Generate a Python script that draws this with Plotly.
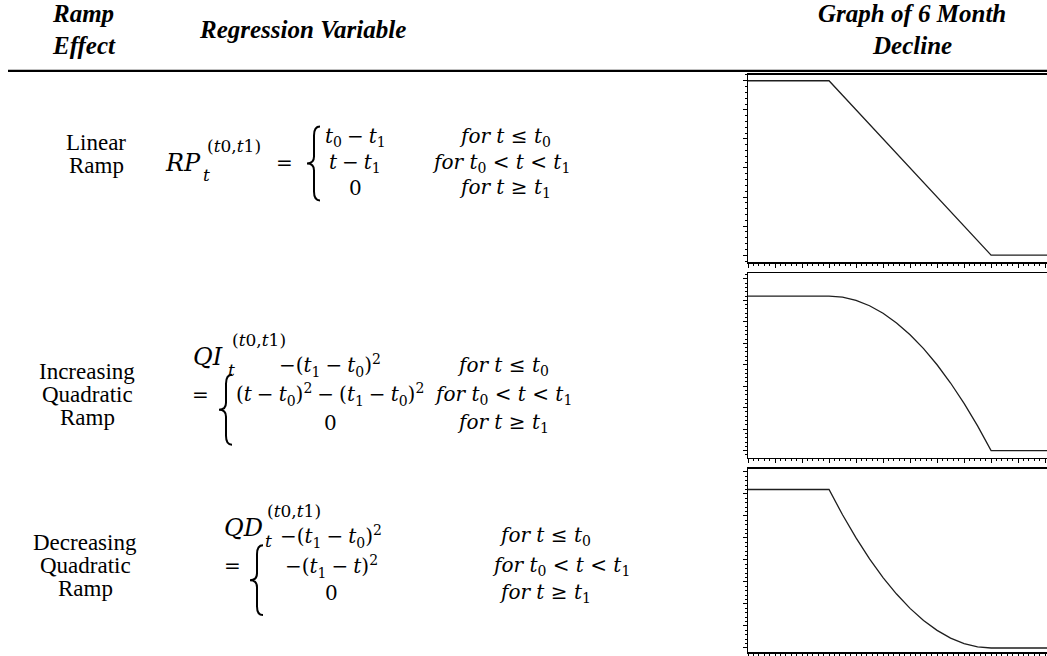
import plotly.graph_objects as go

W, H = 1047, 656

# ---------------- data ----------------
months = [0, 3, 3.5, 4, 4.5, 5, 5.5, 6, 6.5, 7, 7.5, 8, 8.5, 9, 12]
linear_ramp = [6, 6, 5.5, 5, 4.5, 4, 3.5, 3, 2.5, 2, 1.5, 1, 0.5, 0, 0]
increasing_quad = [36, 36, 35.75, 35, 33.75, 32, 29.75, 27, 23.75, 20, 15.75, 11, 5.75, 0, 0]
decreasing_quad = [36, 36, 30.25, 25, 20.25, 16, 12.25, 9, 6.25, 4, 2.25, 1, 0.25, 0, 0]

header_effect = ["Ramp", "Effect"]
header_variable = "Regression Variable"
header_graph = ["Graph of 6 Month", "Decline"]
row_labels = [["Linear", "Ramp"],
              ["Increasing", "Quadratic", "Ramp"],
              ["Decreasing", "Quadratic", "Ramp"]]

S = "\u2005"  # medium math space
T0 = "<i>t</i><sub>0</sub>"
T1 = "<i>t</i><sub>1</sub>"
SQ = "<sup>2</sup>"
var_names = ["<i>RP</i>", "<i>QI</i>", "<i>QD</i>"]
var_sup = "(<i>t</i>0,<i>t</i>1)"
case_values = [
    [f"{T0}{S}−{S}{T1}", f"<i>t</i>{S}−{S}{T1}", "0"],
    [f"−({T1}{S}−{S}{T0}){SQ}", f"(<i>t</i>{S}−{S}{T0}){SQ}{S}−{S}({T1}{S}−{S}{T0}){SQ}", "0"],
    [f"−({T1}{S}−{S}{T0}){SQ}", f"−({T1}{S}−{S}<i>t</i>){SQ}", "0"],
]
case_conds = [f"<i>for t</i> ≤ {T0}", f"<i>for</i> {T0} < <i>t</i> < {T1}", f"<i>for t</i> ≥ {T1}"]


def X(px):
    return px / W


def Y(py):
    return 1 - py / H


fig = go.Figure()
series = [linear_ramp, increasing_quad, decreasing_quad]
for i, ys in enumerate(series):
    sfx = "" if i == 0 else str(i + 1)
    fig.add_trace(go.Scatter(x=months, y=ys, mode="lines",
                             line=dict(color="#1e1e1e", width=1.3),
                             xaxis="x" + sfx, yaxis="y" + sfx,
                             showlegend=False, hoverinfo="skip"))

# graph boxes: (top px, bottom px, y range, major, minor)
boxes = [(75, 263, [-0.24, 6.206], 1, 0.2),
         (274, 459, [-1.63, 41.34], 5, 1),
         (470, 654, [-0.91, 40.75], 5, 1)]

layout = dict(width=W, height=H, margin=dict(l=0, r=0, t=0, b=0),
              paper_bgcolor="white", plot_bgcolor="white", showlegend=False)
for i, (top, bot, yr, maj, mnr) in enumerate(boxes):
    sfx = "" if i == 0 else str(i + 1)
    layout["xaxis" + sfx] = dict(domain=[X(748), 1], range=[0, 11.07],
                                 anchor="y" + sfx, showline=True, linecolor="black",
                                 linewidth=1.5, mirror=True, ticks="outside", ticklen=4,
                                 tickwidth=1, tickcolor="black", dtick=1, tick0=0,
                                 showticklabels=False, showgrid=False, zeroline=False,
                                 minor=dict(ticks="outside", ticklen=2, dtick=0.2,
                                            tickcolor="black", tickwidth=1, showgrid=False),
                                 fixedrange=True)
    layout["yaxis" + sfx] = dict(domain=[Y(bot), Y(top)], range=yr,
                                 anchor="x" + sfx, showline=True, linecolor="black",
                                 linewidth=1.5, ticks="outside", ticklen=4, tickwidth=1,
                                 tickcolor="black", dtick=maj, tick0=0,
                                 showticklabels=False, showgrid=False, zeroline=False,
                                 minor=dict(ticks="outside", ticklen=2, dtick=mnr,
                                            tickcolor="black", tickwidth=1, showgrid=False),
                                 fixedrange=True)
fig.update_layout(**layout)

ann = []
HDR = dict(family="Liberation Serif", size=25, color="black", weight="bold", style="italic")
LBL = dict(family="Liberation Serif", size=23, color="black")
MTH = dict(family="DejaVu Serif", size=20, color="black")
MTHN = dict(family="DejaVu Serif", size=24, color="black")
MTHS = dict(family="DejaVu Serif", size=17, color="black")


def text(s, x, y, font, xa="center", ya="middle"):
    ann.append(dict(text=s, x=X(x), y=Y(y), xref="paper", yref="paper",
                    xanchor=xa, yanchor=ya, showarrow=False, font=font))


# headers
text(header_effect[0], 50, 14, HDR, xa="left")
text(header_effect[1], 50, 46, HDR, xa="left")
text(header_variable, 302, 30, HDR)
text(header_graph[0], 912, 14, HDR)
text(header_graph[1], 912, 46, HDR)

# row labels
label_y = [[143, 166], [373, 396, 419], [544, 567, 590]]
label_x = [96, 87, 85]
for labs, ys, lx in zip(row_labels, label_y, label_x):
    for s, yy in zip(labs, ys):
        text(s, lx, yy, LBL)

# formulas
forms = [
    dict(nx=163, ny=163, supx=205, subx=201, ex=284, ey=163, bx=314, bt=127, bb=201,
         c1=355, c2=[457, 430, 457], rows=[137, 163, 189]),
    dict(nx=191, ny=358, supx=230, subx=226, ex=200, ey=396, bx=226, bt=376, bb=446,
         c1=330, c2=[455, 432, 455], rows=[367, 396, 424]),
    dict(nx=222, ny=530, supx=265, subx=263, ex=232, ey=568, bx=257, bt=547, bb=617,
         c1=331, c2=[497, 490, 497], rows=[538, 568, 595]),
]
shapes = []
for k, f in enumerate(forms):
    text(var_names[k], f["nx"], f["ny"], MTHN, xa="left")
    text(var_sup, f["supx"], f["ny"] - 17, MTHS, xa="left")
    text("<i>t</i>", f["subx"], f["ny"] + 13, MTHS, xa="left")
    text("=", f["ex"], f["ey"], MTH)
    for s, yy in zip(case_values[k], f["rows"]):
        text(s, f["c1"], yy, MTH)
    for s, xx, yy in zip(case_conds, f["c2"], f["rows"]):
        text(s, xx, yy, MTH, xa="left")
    # curly brace
    xs, xt, xe = f["bx"], f["bx"] - 7, f["bx"] + 6
    yt, yb = f["bt"], f["bb"]
    ym = (yt + yb) / 2
    p = (f"M {X(xe)},{Y(yt)} Q {X(xs)},{Y(yt)} {X(xs)},{Y(yt + 9)} "
         f"L {X(xs)},{Y(ym - 7)} Q {X(xs)},{Y(ym)} {X(xt)},{Y(ym)} "
         f"Q {X(xs)},{Y(ym)} {X(xs)},{Y(ym + 7)} "
         f"L {X(xs)},{Y(yb - 9)} Q {X(xs)},{Y(yb)} {X(xe)},{Y(yb)}")
    shapes.append(dict(type="path", path=p, xref="paper", yref="paper",
                       line=dict(color="black", width=2)))

# header rule
shapes.append(dict(type="line", x0=X(8), x1=1, y0=Y(71), y1=Y(71), xref="paper", yref="paper",
                   line=dict(color="black", width=2.2)))

fig.update_layout(annotations=ann, shapes=shapes)
fig.write_html("out.html", config={"displayModeBar": False, "staticPlot": True},
               post_script="document.body.style.margin='0';document.body.style.overflow='hidden';")
